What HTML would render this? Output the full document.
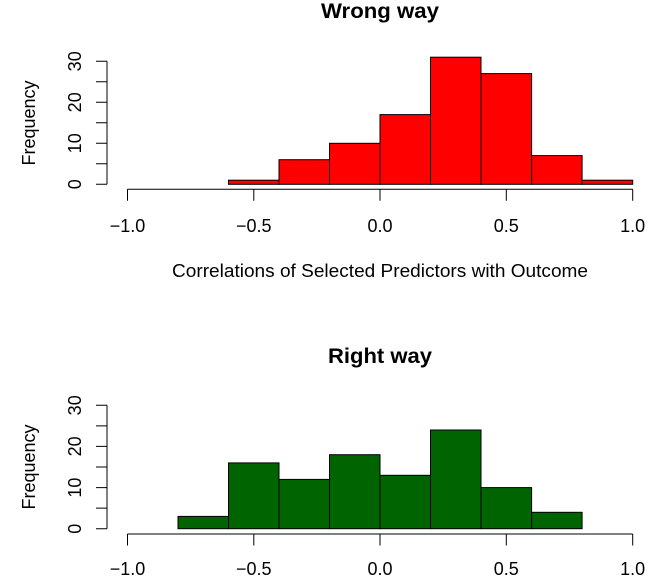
<!DOCTYPE html>
<html><head><meta charset="utf-8"><style>
html,body{margin:0;padding:0;background:#fff;}
svg{display:block;font-family:"Liberation Sans",Arial,sans-serif;}
</style></head><body>
<svg width="669" height="588" viewBox="0 0 669 588" xmlns="http://www.w3.org/2000/svg">
<g stroke="#000" stroke-width="1">
<g fill="#ff0000">
<rect x="228.5" y="180.2" width="50.5" height="4.1"/>
<rect x="279" y="159.7" width="50.5" height="24.6"/>
<rect x="329.5" y="143.3" width="50.5" height="41"/>
<rect x="380" y="114.6" width="50.5" height="69.7"/>
<rect x="430.5" y="57.2" width="50.5" height="127.1"/>
<rect x="481" y="73.6" width="50.6" height="110.7"/>
<rect x="531.6" y="155.6" width="50.5" height="28.7"/>
<rect x="582.1" y="180.2" width="50.6" height="4.1"/>
</g>
<g fill="none">
<path d="M127.5 189.3H632.7M127.5 189.3v11.5M253.8 189.3v11.5M380 189.3v11.5M506.3 189.3v11.5M632.7 189.3v11.5"/>
<path d="M107 184.3V61.3M107 184.3h-11M107 163.8h-11M107 143.3h-11M107 122.8h-11M107 102.3h-11M107 81.8h-11M107 61.3h-11"/>
</g>
<g fill="#006400">
<rect x="178" y="516.4" width="50.5" height="12.3"/>
<rect x="228.5" y="462.9" width="50.5" height="65.8"/>
<rect x="279" y="479.4" width="50.5" height="49.3"/>
<rect x="329.5" y="454.7" width="50.5" height="74"/>
<rect x="380" y="475.3" width="50.5" height="53.4"/>
<rect x="430.5" y="430" width="50.5" height="98.7"/>
<rect x="481" y="487.6" width="50.6" height="41.1"/>
<rect x="531.6" y="512.3" width="50.5" height="16.4"/>
</g>
<g fill="none">
<path d="M127.5 534H632.7M127.5 534v11.5M253.8 534v11.5M380 534v11.5M506.3 534v11.5M632.7 534v11.5"/>
<path d="M107 528.7V405.3M107 528.7h-11M107 508.1h-11M107 487.6h-11M107 467h-11M107 446.4h-11M107 425.9h-11M107 405.3h-11"/>
</g>
</g>
<g font-size="18" fill="#000" text-anchor="middle">
<text x="380" y="18" font-weight="bold" font-size="21" textLength="118" lengthAdjust="spacingAndGlyphs">Wrong way</text>
<text x="127.5" y="232">−1.0</text><text x="253.8" y="232">−0.5</text><text x="380" y="232">0.0</text><text x="506.3" y="232">0.5</text><text x="632.7" y="232">1.0</text>
<text x="380" y="277" textLength="416" lengthAdjust="spacingAndGlyphs">Correlations of Selected Predictors with Outcome</text>
<text transform="translate(35,123) rotate(-90)">Frequency</text>
<text transform="translate(81,184.3) rotate(-90)">0</text>
<text transform="translate(81,143.3) rotate(-90)">10</text>
<text transform="translate(81,102.3) rotate(-90)">20</text>
<text transform="translate(81,61.3) rotate(-90)">30</text>

<text x="380" y="363" font-weight="bold" font-size="21" textLength="104" lengthAdjust="spacingAndGlyphs">Right way</text>
<text x="127.5" y="575">−1.0</text><text x="253.8" y="575">−0.5</text><text x="380" y="575">0.0</text><text x="506.3" y="575">0.5</text><text x="632.7" y="575">1.0</text>
<text transform="translate(35,467) rotate(-90)">Frequency</text>
<text transform="translate(81,528.7) rotate(-90)">0</text>
<text transform="translate(81,487.6) rotate(-90)">10</text>
<text transform="translate(81,446.4) rotate(-90)">20</text>
<text transform="translate(81,405.3) rotate(-90)">30</text>
</g>
</svg>
</body></html>
